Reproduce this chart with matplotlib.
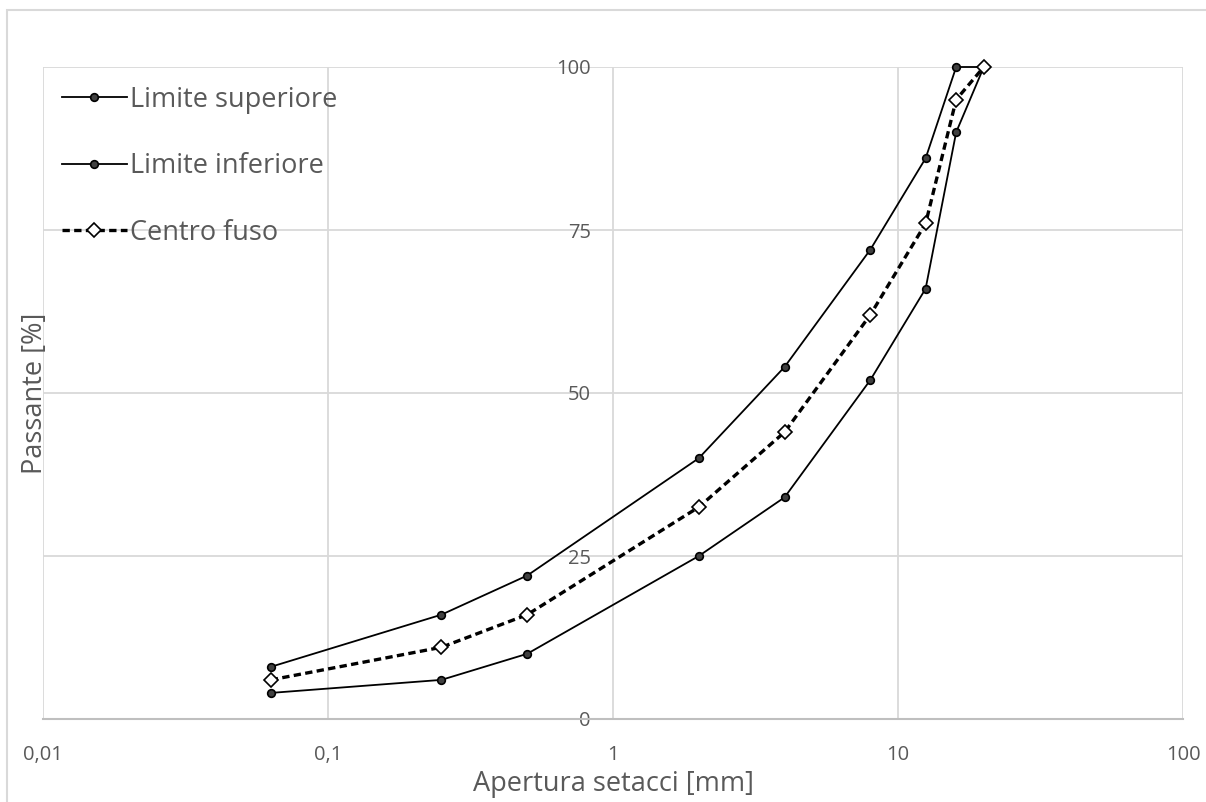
import matplotlib.pyplot as plt
from matplotlib.patches import Rectangle
from matplotlib.ticker import FixedLocator, FixedFormatter

plt.rcParams['font.family'] = ['Open Sans', 'DejaVu Sans']

# sieve openings [mm]
setacci = [0.063, 0.25, 0.5, 2, 4, 8, 12.5, 16, 20]
lim_sup = [8, 16, 22, 40, 54, 72, 86, 100, 100]
lim_inf = [4, 6, 10, 25, 34, 52, 66, 90, 100]
centro = [6, 11, 16, 32.5, 44, 62, 76, 95, 100]

x_ticks = [0.01, 0.1, 1, 10, 100]
x_labels = ['0,01', '0,1', '1', '10', '100']
y_ticks = [0, 25, 50, 75, 100]

grey = '#595959'
gridc = '#d9d9d9'

fig = plt.figure(figsize=(12.06, 8.02), dpi=100)
fig.patches.append(Rectangle((7 / 1206, -0.1), 1.2, (802 - 10) / 802 + 0.1,
                             transform=fig.transFigure, fill=False,
                             edgecolor=gridc, linewidth=1.5))
ax = fig.add_axes([43 / 1206, 83 / 802, (1183 - 43) / 1206, (719 - 67) / 802])

ax.plot(setacci, lim_sup, color='black', lw=1.3, marker='o', ms=5.5,
        mfc='#404040', mec='black', mew=1.2, label='Limite superiore', zorder=3, clip_on=False)
ax.plot(setacci, lim_inf, color='black', lw=1.3, marker='o', ms=5.5,
        mfc='#404040', mec='black', mew=1.2, label='Limite inferiore', zorder=3, clip_on=False)
ax.plot(setacci, centro, color='black', lw=2.4, ls=(0, (2.2, 1.3)), marker='D', ms=7.5,
        mfc='white', mec='black', mew=1.2, label='Centro fuso', zorder=4, clip_on=False)

ax.set_xscale('log')
ax.set_xlim(0.01, 100)
ax.set_ylim(0, 100)
ax.xaxis.set_major_locator(FixedLocator(x_ticks))
ax.xaxis.set_major_formatter(FixedFormatter(x_labels))
ax.xaxis.set_minor_locator(FixedLocator([]))
ax.set_yticks(y_ticks)

ax.grid(True, color=gridc, lw=1.3)
ax.set_axisbelow(True)
for s in ['top', 'right', 'left']:
    ax.spines[s].set_visible(False)
ax.spines['bottom'].set_color('#bfbfbf')
ax.spines['bottom'].set_linewidth(1.5)

# y tick labels sit on the x=1 line
ax.spines['left'].set_position(('data', 1))
ax.tick_params(axis='y', length=0, pad=16, labelsize=14.5, labelcolor=grey)
ax.tick_params(axis='x', length=0, pad=19, labelsize=14.5, labelcolor=grey)

ax.set_xlabel('Apertura setacci [mm]', fontsize=19.5, color=grey, labelpad=3)
ax.set_ylabel('Passante [%]', fontsize=19.5, color=grey)
ax.yaxis.set_label_coords(0.005, 0.5, transform=ax.transAxes)

leg = ax.legend(loc='upper left', bbox_to_anchor=(0.0, 1.0), frameon=False,
                fontsize=19.5, labelcolor=grey, handlelength=2.4, handletextpad=0.1,
                labelspacing=1.42, borderaxespad=0.3)

fig.savefig('out.png', dpi=100)
